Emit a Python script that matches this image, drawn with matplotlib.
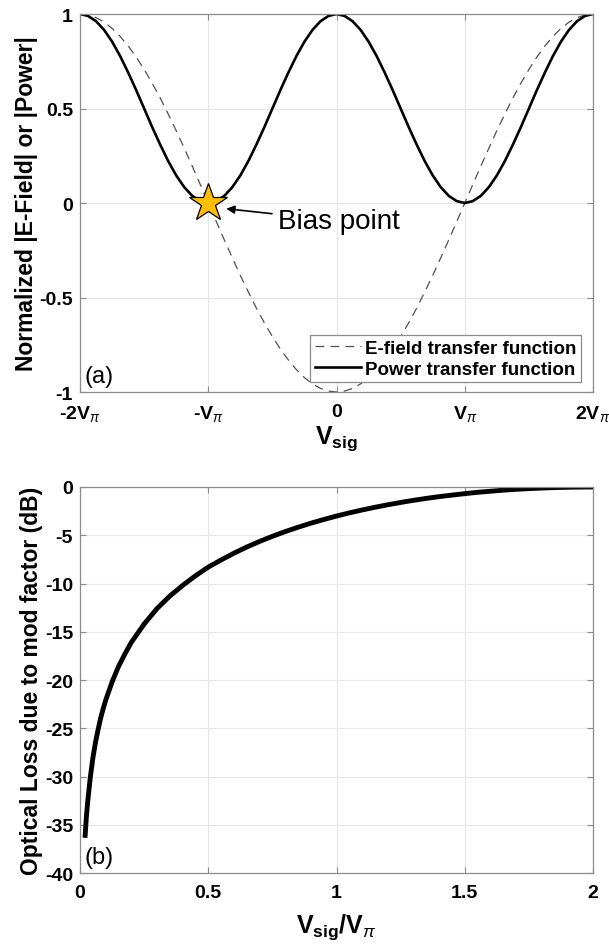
import numpy as np
import matplotlib
matplotlib.use('Agg')
import matplotlib.pyplot as plt

plt.rcParams['font.family'] = ['Liberation Sans', 'DejaVu Sans']
plt.rcParams['mathtext.fontset'] = 'custom'
plt.rcParams['mathtext.rm'] = 'Liberation Sans'
plt.rcParams['mathtext.it'] = 'Liberation Sans:italic'
plt.rcParams['mathtext.bf'] = 'Liberation Sans:bold'

# (a) transfer functions, x in units of V_pi (step 1/16)
v_sig = list(np.arange(-2.0, 2.0001, 0.0625))
e_field = [1.0, 0.995, 0.981, 0.957, 0.924, 0.882, 0.831, 0.773,
           0.707, 0.634, 0.556, 0.471, 0.383, 0.290, 0.195, 0.098,
           0.0, -0.098, -0.195, -0.290, -0.383, -0.471, -0.556, -0.634,
           -0.707, -0.773, -0.831, -0.882, -0.924, -0.957, -0.981, -0.995,
           -1.0, -0.995, -0.981, -0.957, -0.924, -0.882, -0.831, -0.773,
           -0.707, -0.634, -0.556, -0.471, -0.383, -0.290, -0.195, -0.098,
           0.0, 0.098, 0.195, 0.290, 0.383, 0.471, 0.556, 0.634,
           0.707, 0.773, 0.831, 0.882, 0.924, 0.957, 0.981, 0.995, 1.0]
power = [1.0, 0.990, 0.962, 0.916, 0.854, 0.778, 0.691, 0.598,
         0.5, 0.402, 0.309, 0.222, 0.146, 0.084, 0.038, 0.010,
         0.0, 0.010, 0.038, 0.084, 0.146, 0.222, 0.309, 0.402,
         0.5, 0.598, 0.691, 0.778, 0.854, 0.916, 0.962, 0.990,
         1.0, 0.990, 0.962, 0.916, 0.854, 0.778, 0.691, 0.598,
         0.5, 0.402, 0.309, 0.222, 0.146, 0.084, 0.038, 0.010,
         0.0, 0.010, 0.038, 0.084, 0.146, 0.222, 0.309, 0.402,
         0.5, 0.598, 0.691, 0.778, 0.854, 0.916, 0.962, 0.990, 1.0]
bias_v, bias_p = -1.0, 0.0
xtick_vals = [-2, -1, 0, 1, 2]
xtick_labels = ['-2V$_{\\pi}$', '-V$_{\\pi}$', '0', 'V$_{\\pi}$', '2V$_{\\pi}$']

# (b) optical loss vs Vsig/Vpi
ratio = [0.02, 0.025, 0.03, 0.04, 0.05, 0.06, 0.07, 0.08, 0.09, 0.10,
         0.125, 0.15, 0.175, 0.20, 0.25, 0.30, 0.35, 0.40, 0.45, 0.50,
         0.55, 0.60, 0.65, 0.70, 0.75, 0.80, 0.85, 0.90, 0.95, 1.00,
         1.05, 1.10, 1.15, 1.20, 1.25, 1.30, 1.35, 1.40, 1.45, 1.50,
         1.55, 1.60, 1.65, 1.70, 1.75, 1.80, 1.85, 1.90, 1.95, 2.00]
loss_db = [-36.1, -34.1, -32.6, -30.1, -28.1, -26.5, -25.2, -24.0, -23.0, -22.1,
           -20.2, -18.6, -17.3, -16.1, -14.2, -12.6, -11.3, -10.2, -9.2, -8.3,
           -7.56, -6.86, -6.22, -5.64, -5.11, -4.62, -4.17, -3.75, -3.37, -3.01,
           -2.68, -2.38, -2.10, -1.84, -1.60, -1.38, -1.18, -1.00, -0.84, -0.69,
           -0.55, -0.44, -0.33, -0.24, -0.17, -0.11, -0.06, -0.03, -0.01, 0.0]

fig = plt.figure(figsize=(6.09, 9.45), dpi=100)
ax1 = fig.add_axes([0.1314, 0.5841, 0.8424, 0.4])
ax2 = fig.add_axes([0.1314, 0.0751, 0.8424, 0.4085])

def style(ax):
    ax.grid(True, color='#e6e6e6', linewidth=0.8)
    ax.set_axisbelow(True)
    for s in ax.spines.values():
        s.set_color('#8c8c8c')
        s.set_linewidth(0.9)
    ax.tick_params(direction='in', top=True, right=True, length=4,
                   color='#8c8c8c', labelsize=14, pad=5)
    ax.tick_params(axis='x', pad=8)
    for lab in ax.get_xticklabels() + ax.get_yticklabels():
        lab.set_fontweight('bold')

ax1.plot(v_sig, e_field, '--', color='#505050', lw=0.9, dashes=(7, 5),
         label='E-field transfer function')
ax1.plot(v_sig, power, '-', color='black', lw=1.9, label='Power transfer function')
ax1.plot(bias_v, bias_p, marker='*', markersize=29, markerfacecolor='#ffbf00',
         markeredgecolor='black', markeredgewidth=0.9, linestyle='none')
ax1.annotate('Bias point', xy=(-0.86, -0.03), xytext=(-0.46, -0.095),
             fontsize=20, va='center', ha='left',
             arrowprops=dict(arrowstyle='-|>', color='black', lw=1.2,
                             mutation_scale=12, shrinkA=2, shrinkB=0))
ax1.set_xlim(-2, 2)
ax1.set_ylim(-1, 1)
ax1.set_xticks(xtick_vals)
ax1.set_xticklabels(xtick_labels)
ax1.set_yticks([-1, -0.5, 0, 0.5, 1])
ax1.set_yticklabels(['-1', '-0.5', '0', '0.5', '1'])
style(ax1)
ax1.set_ylabel('Normalized |E-Field| or |Power|', fontsize=16.5, fontweight='bold', labelpad=1)
ax1.set_xlabel('V$_{\\mathbf{sig}}$', fontsize=18, fontweight='bold', labelpad=0)
leg = ax1.legend(loc='lower right', bbox_to_anchor=(0.977, 0.026),
                 prop={'weight': 'bold', 'size': 13.5}, fancybox=False,
                 framealpha=1, edgecolor='#8c8c8c', borderpad=0.25,
                 handlelength=2.5, handletextpad=0.2, labelspacing=0.2,
                 borderaxespad=0)
leg.get_frame().set_linewidth(0.9)
ax1.text(0.008, 0.012, '(a)', transform=ax1.transAxes, fontsize=17,
         ha='left', va='bottom')

ax2.plot(ratio, loss_db, '-', color='black', lw=3.5)
ax2.set_xlim(0, 2)
ax2.set_ylim(-40, 0)
ax2.set_xticks([0, 0.5, 1, 1.5, 2])
ax2.set_xticklabels(['0', '0.5', '1', '1.5', '2'])
ax2.set_yticks(np.arange(-40, 1, 5))
ax2.set_yticklabels([str(v) for v in range(-40, 1, 5)])
style(ax2)
ax2.set_ylabel('Optical Loss due to mod factor (dB)', fontsize=16.5, fontweight='bold', labelpad=1)
ax2.set_xlabel('V$_{\\mathbf{sig}}$/V$_{\\pi}$', fontsize=18, fontweight='bold', labelpad=7)
ax2.text(0.008, 0.012, '(b)', transform=ax2.transAxes, fontsize=17,
         ha='left', va='bottom')

fig.savefig('out.png', dpi=100)
